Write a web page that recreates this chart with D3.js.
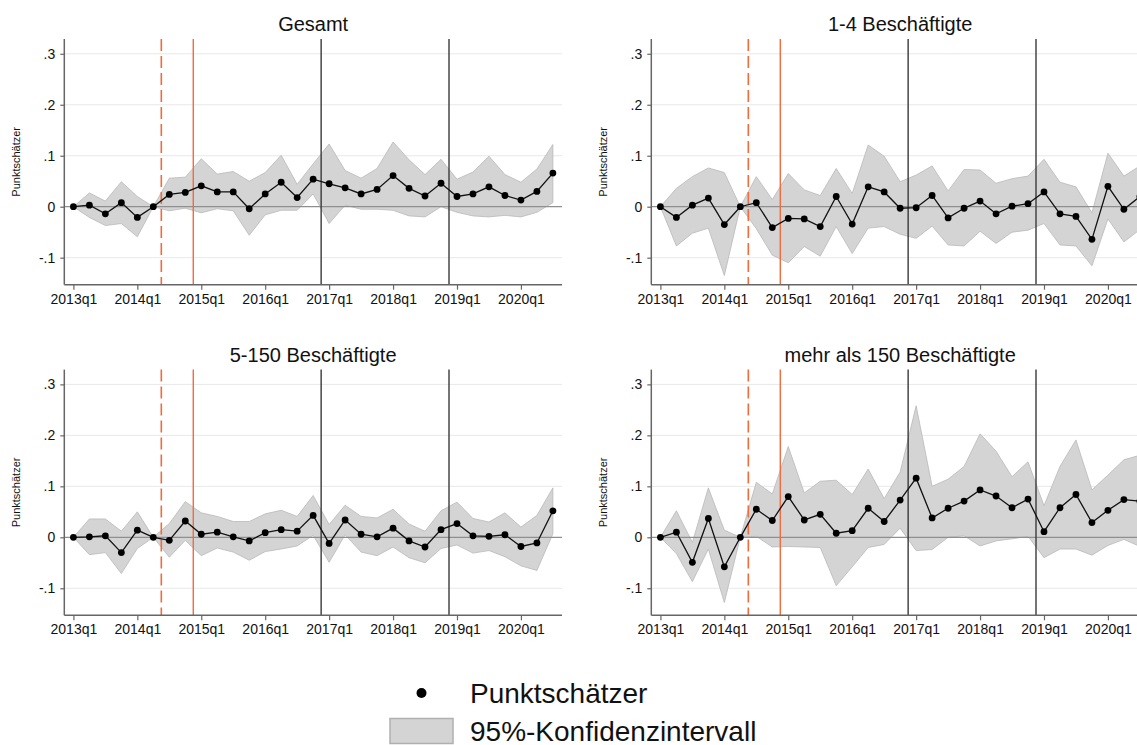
<!DOCTYPE html>
<html>
<head>
<meta charset="utf-8">
<script src="https://cdn.jsdelivr.net/npm/d3@7"></script>
<style>
body { margin: 0; background: #fff; }
svg { display: block; font-family: "Liberation Sans", Arial, sans-serif; }
</style>
</head>
<body>
<svg id="chart"></svg>
<script>
var width = 1137;
var height = 745;

// tick labels on the quarter axis (every 4th quarter starting at 2013q1)
var tickQuarters = [0, 4, 8, 12, 16, 20, 24, 28];
var tickLabels = ["2013q1", "2014q1", "2015q1", "2016q1", "2017q1", "2018q1", "2019q1", "2020q1"];
var yTicks = [-0.1, 0, 0.1, 0.2, 0.3];
var yLabels = ["-.1", "0", ".1", ".2", ".3"];

// event markers in quarter index (0 = 2013q1)
var dashedEvent = 5.5;
var solidEvent = 7.5;
var blackEvents = [15.5, 23.5];

var titles = ["Gesamt", "1-4 Beschäftigte", "5-150 Beschäftigte", "mehr als 150 Beschäftigte"];

// point estimates and 95% bounds, 2013q1 .. 2020q3
var gesamtPt = [0, 0.003, -0.014, 0.008, -0.021, 0, 0.024, 0.028, 0.041, 0.029, 0.029, -0.004, 0.025, 0.048, 0.018, 0.054,
	0.045, 0.037, 0.025, 0.034, 0.061, 0.036, 0.021, 0.046, 0.020, 0.025, 0.039, 0.022, 0.013, 0.030, 0.066];
var gesamtHi = [0, 0.027, 0.011, 0.049, 0.020, 0, 0.056, 0.058, 0.094, 0.064, 0.069, 0.050, 0.067, 0.101, 0.044, 0.084,
	0.123, 0.071, 0.056, 0.075, 0.127, 0.092, 0.063, 0.093, 0.054, 0.068, 0.099, 0.063, 0.048, 0.074, 0.122];
var gesamtLo = [0, -0.021, -0.037, -0.033, -0.059, 0, -0.008, -0.003, -0.012, -0.004, -0.008, -0.056, -0.016, -0.007, -0.007, 0.025,
	-0.033, 0.003, -0.005, -0.005, -0.007, -0.018, -0.020, 0.000, -0.011, -0.018, -0.020, -0.017, -0.020, -0.011, 0.008];

var small1Pt = [0, -0.021, 0.003, 0.017, -0.035, 0, 0.008, -0.041, -0.023, -0.024, -0.039, 0.020, -0.034, 0.039, 0.029, -0.003,
	-0.002, 0.022, -0.022, -0.003, 0.011, -0.014, 0.001, 0.006, 0.029, -0.014, -0.019, -0.064, 0.040, -0.005, 0.020];
var small1Hi = [0, 0.036, 0.059, 0.076, 0.067, 0, 0.059, 0.014, 0.065, 0.033, 0.022, 0.075, 0.026, 0.121, 0.099, 0.049,
	0.062, 0.080, 0.031, 0.073, 0.072, 0.046, 0.055, 0.060, 0.093, 0.048, 0.039, -0.012, 0.105, 0.060, 0.080];
var small1Lo = [0, -0.077, -0.052, -0.042, -0.135, 0, -0.043, -0.095, -0.110, -0.078, -0.097, -0.039, -0.092, -0.042, -0.039, -0.054,
	-0.062, -0.038, -0.075, -0.077, -0.048, -0.072, -0.050, -0.046, -0.033, -0.075, -0.077, -0.116, -0.024, -0.069, -0.045];

var midPt = [0, 0.001, 0.003, -0.030, 0.014, 0, -0.006, 0.032, 0.006, 0.010, 0.001, -0.007, 0.009, 0.015, 0.012, 0.043,
	-0.012, 0.034, 0.006, 0.001, 0.018, -0.007, -0.019, 0.015, 0.027, 0.003, 0.002, 0.005, -0.018, -0.011, 0.052];
var midHi = [0, 0.036, 0.036, 0.012, 0.050, 0, 0.027, 0.070, 0.048, 0.041, 0.031, 0.031, 0.046, 0.053, 0.041, 0.082,
	0.025, 0.063, 0.041, 0.038, 0.055, 0.026, 0.012, 0.052, 0.069, 0.037, 0.030, 0.048, 0.020, 0.043, 0.097];
var midLo = [0, -0.034, -0.030, -0.071, -0.022, 0, -0.039, -0.006, -0.036, -0.021, -0.029, -0.045, -0.028, -0.023, -0.017, 0.004,
	-0.049, 0.005, -0.029, -0.036, -0.019, -0.040, -0.050, -0.022, -0.015, -0.031, -0.026, -0.038, -0.056, -0.065, 0.007];

var largePt = [0, 0.010, -0.049, 0.037, -0.058, 0, 0.055, 0.033, 0.080, 0.034, 0.045, 0.008, 0.013, 0.057, 0.031, 0.073,
	0.116, 0.038, 0.057, 0.071, 0.093, 0.081, 0.058, 0.075, 0.011, 0.058, 0.084, 0.029, 0.053, 0.074, 0.071];
var largeHi = [0, 0.052, -0.010, 0.097, 0.014, 0, 0.108, 0.085, 0.178, 0.087, 0.110, 0.112, 0.084, 0.134, 0.076, 0.128,
	0.258, 0.100, 0.114, 0.139, 0.203, 0.169, 0.119, 0.148, 0.062, 0.139, 0.191, 0.093, 0.122, 0.152, 0.161];
var largeLo = [0, -0.032, -0.087, -0.023, -0.128, 0, 0.002, -0.019, -0.018, -0.019, -0.020, -0.095, -0.058, -0.020, -0.014, 0.018,
	-0.026, -0.024, 0.000, 0.003, -0.017, -0.007, -0.003, 0.002, -0.040, -0.023, -0.023, -0.035, -0.016, -0.004, -0.018];

var orange = "#f26b3a";
var bandFill = "#d4d4d4";

var svg = d3.select("#chart").attr("width", width).attr("height", height);

// panel frames: left edge of plot, top of plot
var panels = [
	{ title: titles[0], pt: gesamtPt, lo: gesamtLo, hi: gesamtHi, x0: 64.3, y0: 39 },
	{ title: titles[1], pt: small1Pt, lo: small1Lo, hi: small1Hi, x0: 651.3, y0: 39 },
	{ title: titles[2], pt: midPt, lo: midLo, hi: midHi, x0: 64.3, y0: 369.6 },
	{ title: titles[3], pt: largePt, lo: largeLo, hi: largeHi, x0: 651.3, y0: 369.6 }
];

var plotW = 497.7;
var plotH = 245.7;

panels.forEach(drawPanel);

function drawPanel(p) {
	var x = d3.scaleLinear().domain([-0.57, 30.57]).range([p.x0, p.x0 + plotW]);
	var y = d3.scaleLinear().domain([-0.153, 0.329]).range([p.y0 + plotH, p.y0]);
	var g = svg.append("g");
	var idx = d3.range(p.pt.length);

	// grid lines
	g.selectAll("line.grid").data(yTicks.filter(d => d != 0)).enter().append("line")
		.attr("x1", x.range()[0]).attr("x2", x.range()[1])
		.attr("y1", d => y(d)).attr("y2", d => y(d))
		.attr("stroke", "#e8e8e8").attr("stroke-width", 1);

	// confidence band
	var area = d3.area().x(i => x(i)).y0(i => y(p.lo[i])).y1(i => y(p.hi[i]));
	g.append("path").datum(idx).attr("d", area)
		.attr("fill", bandFill).attr("stroke", "#b9b9b9").attr("stroke-width", 0.8);

	// zero line
	g.append("line")
		.attr("x1", x.range()[0]).attr("x2", x.range()[1])
		.attr("y1", y(0)).attr("y2", y(0))
		.attr("stroke", "#8f8f8f").attr("stroke-width", 1.2);

	// event lines
	g.append("line")
		.attr("x1", x(dashedEvent)).attr("x2", x(dashedEvent))
		.attr("y1", y.range()[1]).attr("y2", y.range()[0])
		.attr("stroke", orange).attr("stroke-width", 1.6).attr("stroke-dasharray", "12,5");
	g.append("line")
		.attr("x1", x(solidEvent)).attr("x2", x(solidEvent))
		.attr("y1", y.range()[1]).attr("y2", y.range()[0])
		.attr("stroke", orange).attr("stroke-width", 1.4);
	g.selectAll("line.ev").data(blackEvents).enter().append("line")
		.attr("x1", d => x(d)).attr("x2", d => x(d))
		.attr("y1", y.range()[1]).attr("y2", y.range()[0])
		.attr("stroke", "#3a3a3a").attr("stroke-width", 1.4);

	// point estimates
	var line = d3.line().x(i => x(i)).y(i => y(p.pt[i]));
	g.append("path").datum(idx).attr("d", line)
		.attr("fill", "none").attr("stroke", "#111").attr("stroke-width", 1.3);
	g.selectAll("circle").data(idx).enter().append("circle")
		.attr("cx", i => x(i)).attr("cy", i => y(p.pt[i])).attr("r", 3.4)
		.attr("fill", "#000");

	// axes
	var yAxis = d3.axisLeft(y).tickValues(yTicks).tickFormat((d, i) => yLabels[i]).tickSize(4).tickPadding(5);
	var ya = g.append("g").attr("transform", "translate(" + x.range()[0] + ",0)").call(yAxis);
	var xAxis = d3.axisBottom(x).tickValues(tickQuarters).tickFormat((d, i) => tickLabels[i]).tickSize(5).tickPadding(4);
	var xa = g.append("g").attr("transform", "translate(0," + y.range()[0] + ")").call(xAxis);
	[ya, xa].forEach(function(a) {
		a.select(".domain").attr("stroke", "#666").attr("stroke-width", 1.5);
		a.selectAll(".tick line").attr("stroke", "#666").attr("stroke-width", 1.2);
		a.selectAll("text").attr("fill", "#111").attr("font-size", 14)
			.attr("font-family", "Liberation Sans, Arial, sans-serif");
	});
	// x axis domain only runs along the plot width
	xa.select(".domain").attr("d", "M" + x.range()[0] + ",0H" + x.range()[1]);
	ya.select(".domain").attr("d", "M0," + y.range()[0] + "V" + y.range()[1]);

	// y label
	g.append("text")
		.attr("transform", "translate(" + (x.range()[0] - 44) + "," + (p.y0 + plotH / 2) + ") rotate(-90)")
		.attr("text-anchor", "middle").attr("font-size", 11).attr("fill", "#111")
		.text("Punktschätzer");

	// title
	g.append("text")
		.attr("x", p.x0 + plotW / 2).attr("y", p.y0 - 8)
		.attr("text-anchor", "middle").attr("font-size", 20).attr("fill", "#111")
		.text(p.title);
}

// legend
var legend = svg.append("g");
legend.append("circle").attr("cx", 421.5).attr("cy", 693).attr("r", 5).attr("fill", "#000");
legend.append("text").attr("x", 470).attr("y", 703).attr("font-size", 28).attr("fill", "#111").text("Punktschätzer");
legend.append("rect").attr("x", 390).attr("y", 718.5).attr("width", 63).attr("height", 25)
	.attr("fill", bandFill).attr("stroke", "#b0b0b0").attr("stroke-width", 1.5);
legend.append("text").attr("x", 470).attr("y", 741).attr("font-size", 28).attr("fill", "#111").text("95%-Konfidenzintervall");
</script>
</body>
</html>
